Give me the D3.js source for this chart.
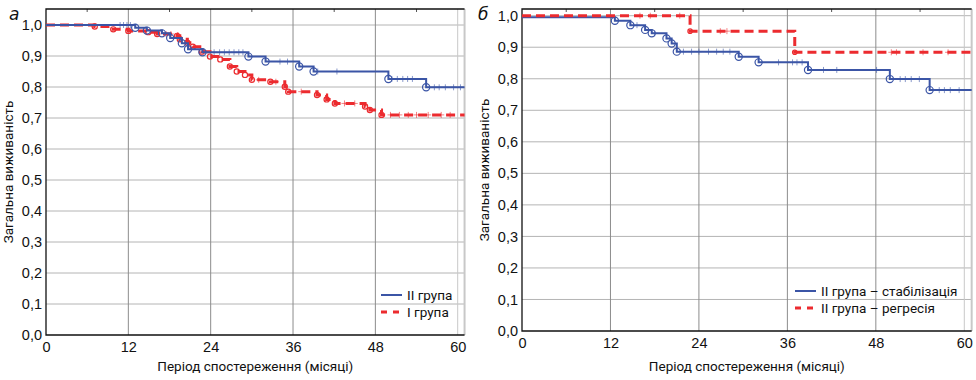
<!DOCTYPE html>
<html>
<head>
<meta charset="utf-8">
<script src="https://cdn.jsdelivr.net/npm/d3@7"></script>
<style>
  body { margin: 0; background: #fff; }
  svg { display: block; font-family: Roboto, "Liberation Sans", sans-serif; }
</style>
</head>
<body>
<svg width="976" height="380"></svg>
<script>
// ---- data ----
var xTicks = [0, 12, 24, 36, 48, 60];
var yTicks = [0, 0.1, 0.2, 0.3, 0.4, 0.5, 0.6, 0.7, 0.8, 0.9, 1.0];

// panel а : II група (blue), I група (red)
var aBlueT = [13, 14.7, 16.9, 18.1, 19.8, 20.7, 22.8, 29.5, 32, 36.9, 39, 49.9, 55.4];
var aBlueS = [0.991, 0.982, 0.973, 0.958, 0.941, 0.922, 0.912, 0.898, 0.882, 0.866, 0.85, 0.826, 0.799];
var aBlueCens = [10.8, 11.3, 11.8, 12.3, 24.5, 25.3, 26, 26.7, 27.4, 28.1, 28.7, 34.1, 35.2, 39.6, 42.4, 50.4, 51.2, 52, 52.7, 53.4, 56.6, 57.3, 58.2, 59.4, 60.4];
var aRedT = [7.1, 9.8, 12, 14.9, 16.2, 19.1, 19.5, 20.6, 21.4, 22.7, 23.9, 25.4, 26.8, 27.8, 29, 30, 32.7, 34.8, 35.3, 39.5, 40.9, 42.1, 46.5, 47.2, 48.9];
var aRedS = [0.995, 0.986, 0.981, 0.977, 0.971, 0.965, 0.954, 0.943, 0.93, 0.914, 0.898, 0.889, 0.866, 0.85, 0.839, 0.823, 0.817, 0.801, 0.785, 0.774, 0.76, 0.747, 0.737, 0.726, 0.71];
var aRedCens = [17.5, 18.2, 31, 33.5, 37.2, 43.5, 45, 50.2, 51.5, 52.8, 54, 55.7, 57.6, 58.9];

// panel б : II група – стабілізація (blue), II група – регресія (red)
var bBlueT = [12.6, 14.7, 16.7, 17.6, 19.6, 20.3, 21, 29.4, 32.1, 38.8, 49.9, 55.3];
var bBlueS = [0.984, 0.97, 0.955, 0.944, 0.928, 0.912, 0.886, 0.87, 0.852, 0.828, 0.799, 0.764];
var bBlueStart = 0.995;
var bBlueCens = [15.6, 18, 21.9, 23, 24, 25.3, 26.4, 27.3, 28.2, 34.8, 36.7, 37.3, 38, 40.9, 42.7, 48.1, 51.3, 52, 52.8, 53.9, 56.6, 57.3, 58.1, 59.3];
var bRedT = [22.8, 37];
var bRedS = [0.951, 0.884];
var bRedCens = [16, 17.4, 21.4, 26.9, 27.8, 50.1, 50.8, 54.4, 57.8];

var blue = '#3b55a6', red = '#ec2b2f';

var svg = d3.select('svg');

function survAt(T, S, start, t) {
    var v = start;
    for (var i = 0; i < T.length; i++) { if (T[i] <= t) v = S[i]; }
    return v;
}

function drawPanel(p) {
    var x = d3.scaleLinear().domain([0, 60]).range([p.left, p.x60]);
    var y = d3.scaleLinear().domain([0, 1]).range([p.bottom, p.y1]);
    var right = x(61);
    var g = svg.append('g');

    // grid
    g.selectAll('.hg').data(yTicks.slice(1)).enter().append('line')
        .attr('x1', p.left).attr('x2', right)
        .attr('y1', function(d) { return y(d); }).attr('y2', function(d) { return y(d); })
        .attr('stroke', '#b4b4b4').attr('stroke-width', 1);
    g.selectAll('.vg').data(xTicks.slice(1)).enter().append('line')
        .attr('x1', function(d) { return x(d); }).attr('x2', function(d) { return x(d); })
        .attr('y1', p.top).attr('y2', p.bottom)
        .attr('stroke', function(d) { return d === 60 ? '#c8c8c8' : '#8c8c8c'; })
        .attr('stroke-width', 1);
    g.append('line').attr('x1', right).attr('x2', right).attr('y1', p.top).attr('y2', p.bottom)
        .attr('stroke', '#c8c8c8').attr('stroke-width', 2);

    // minor ticks on top border
    g.selectAll('.mt').data(d3.range(6, 60, 12)).enter().append('line')
        .attr('x1', function(d) { return x(d); }).attr('x2', function(d) { return x(d); })
        .attr('y1', p.top).attr('y2', p.top + 3).attr('stroke', '#555');

    // axes
    var xAxis = d3.axisBottom(x).tickValues(xTicks).tickSize(0).tickPadding(7);
    var gx = g.append('g').attr('transform', 'translate(0,' + p.bottom + ')').call(xAxis);
    gx.select('.domain').remove();
    gx.selectAll('text').attr('font-size', 14.5).attr('fill', '#111').attr('font-family', null);

    var yAxis = d3.axisLeft(y).tickValues(yTicks).tickSize(0).tickPadding(4)
        .tickFormat(function(d) { return d3.format('.1f')(d).replace('.', ','); });
    var gy = g.append('g').attr('transform', 'translate(' + p.left + ',0)').call(yAxis);
    gy.select('.domain').remove();
    gy.selectAll('text').attr('font-size', 14.5).attr('fill', '#111').attr('font-family', null);

    // frame
    g.append('path')
        .attr('d', 'M' + right + ',' + p.top + 'H' + p.left + 'V' + p.bottom + 'H' + right)
        .attr('fill', 'none').attr('stroke', '#111').attr('stroke-width', 1.3);

    // curves
    p.series.forEach(function(s) {
        var pts = [[0, s.start]];
        s.T.forEach(function(t, i) { pts.push([t, s.S[i]]); });
        pts.push([61, s.S[s.S.length - 1]]);
        var line = d3.line().x(function(d) { return x(d[0]); }).y(function(d) { return y(d[1]); })
            .curve(d3.curveStepAfter);

        // censor marks
        g.selectAll(null).data(s.cens).enter().append('path')
            .attr('d', function(t) {
                var cx = x(t), cy = y(survAt(s.T, s.S, s.start, t));
                return 'M' + (cx - 3) + ',' + cy + 'H' + (cx + 3) + 'M' + cx + ',' + (cy - 3) + 'V' + (cy + 3);
            })
            .attr('stroke', s.color).attr('stroke-opacity', 0.6).attr('stroke-width', 1);

        g.append('path').datum(pts).attr('d', line)
            .attr('fill', 'none').attr('stroke', s.color)
            .attr('stroke-width', s.dash ? 3 : 2)
            .attr('stroke-dasharray', s.dash ? '9,5' : null);

        // event circles
        g.selectAll(null).data(s.T.map(function(t, i) { return [t, s.S[i]]; })).enter().append('circle')
            .attr('cx', function(d) { return x(d[0]); })
            .attr('cy', function(d) { return y(d[1]); })
            .attr('r', s.r)
            .attr('fill', 'none').attr('stroke', s.color).attr('stroke-width', 1.2);
    });

    // legend
    p.legend.forEach(function(l, i) {
        var ly = p.legY + i * 17;
        g.append('line').attr('x1', p.legX).attr('x2', p.legX + 21)
            .attr('y1', ly).attr('y2', ly)
            .attr('stroke', l.color).attr('stroke-width', l.dash ? 3 : 2)
            .attr('stroke-dasharray', l.dash ? '6,6' : null);
        g.append('text').attr('x', p.legX + 26).attr('y', ly + 5)
            .attr('font-size', 13.5).attr('fill', '#111').text(l.label);
    });

    // labels
    g.append('text').attr('x', p.letterX).attr('y', 20)
        .attr('font-size', 17).attr('font-style', 'italic').attr('fill', '#111')
        .attr('font-family', 'DejaVu Sans, sans-serif').text(p.letter);
    g.append('text')
        .attr('transform', 'translate(' + (p.left - 33) + ',' + ((p.top + p.bottom) / 2) + ') rotate(-90)')
        .attr('text-anchor', 'middle').attr('font-size', 13.5).attr('fill', '#111')
        .text('Загальна виживаність');
    g.append('text').attr('x', (p.left + right) / 2).attr('y', 371)
        .attr('text-anchor', 'middle').attr('font-size', 13.5).attr('fill', '#111')
        .text('Період спостереження (місяці)');
}

drawPanel({
    left: 46, x60: 457.7, bottom: 335, y1: 25, top: 9,
    letter: 'а', letterX: 9,
    legX: 381, legY: 295,
    series: [
        {T: aRedT, S: aRedS, start: 1, cens: aRedCens, color: red, dash: true, r: 2.6},
        {T: aBlueT, S: aBlueS, start: 1, cens: aBlueCens, color: blue, dash: false, r: 3.6}
    ],
    legend: [
        {label: 'II група', color: blue, dash: false},
        {label: 'I група', color: red, dash: true}
    ]
});

drawPanel({
    left: 522, x60: 964.3, bottom: 331, y1: 15.7, top: 9,
    letter: 'б', letterX: 478,
    legX: 795, legY: 291,
    series: [
        {T: bBlueT, S: bBlueS, start: bBlueStart, cens: bBlueCens, color: blue, dash: false, r: 3.6},
        {T: bRedT, S: bRedS, start: 1, cens: bRedCens, color: red, dash: true, r: 2.2}
    ],
    legend: [
        {label: 'II група – стабілізація', color: blue, dash: false},
        {label: 'II група – регресія', color: red, dash: true}
    ]
});
</script>
</body>
</html>
